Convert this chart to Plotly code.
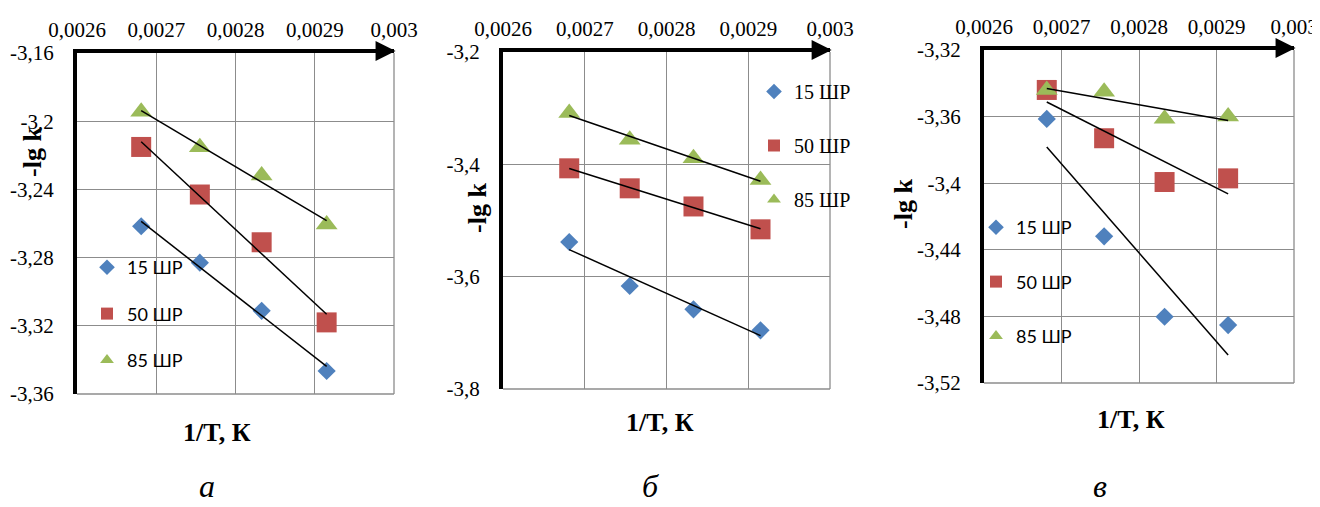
import numpy as np
import plotly.graph_objects as go

# ---------------- data ----------------
inv_T = [0.002681, 0.002755, 0.002833, 0.002915]
series_names = ["15 ШР", "50 ШР", "85 ШР"]

a_15 = [-3.2616, -3.2830, -3.3112, -3.3465]
a_50 = [-3.2151, -3.2430, -3.2710, -3.3180]
a_85 = [-3.1945, -3.2153, -3.2318, -3.2606]

b_15 = [-3.5383, -3.6166, -3.6581, -3.6955]
b_50 = [-3.4071, -3.4427, -3.4750, -3.5157]
b_85 = [-3.3086, -3.3561, -3.3893, -3.4279]

c_15 = [-3.3614, -3.4319, -3.4802, -3.4852]
c_50 = [-3.3440, -3.3730, -3.3993, -3.3971]
c_85 = [-3.3440, -3.3450, -3.3613, -3.3600]

x_tickvals = [0.0026, 0.0027, 0.0028, 0.0029, 0.003]
x_ticktext = ["0,0026", "0,0027", "0,0028", "0,0029", "0,003"]

a_ytickvals = [-3.36, -3.32, -3.28, -3.24, -3.2, -3.16]
a_yticktext = ["-3,36", "-3,32", "-3,28", "-3,24", "-3,2", "-3,16"]
b_ytickvals = [-3.8, -3.6, -3.4, -3.2]
b_yticktext = ["-3,8", "-3,6", "-3,4", "-3,2"]
c_ytickvals = [-3.52, -3.48, -3.44, -3.4, -3.36, -3.32]
c_yticktext = ["-3,52", "-3,48", "-3,44", "-3,4", "-3,36", "-3,32"]

panel_labels = ["а", "б", "в"]
x_title = "1/T, К"
y_title = "-lg k"

# ---------------- style ----------------
OFF = 8                      # page body margin of the html file
W, H = 1320 - OFF, 507 - OFF
SERIF = "Liberation Serif, Times New Roman, serif"
SANS = "Lato, Carlito, Calibri, sans-serif"
colors = ["#4F81BD", "#C0504D", "#9BBB59"]
symbols = ["diamond", "square", "triangle-up"]
sizes = [14, 20, 19]
GRID = "#8c8c8c"
TICK_SIZE = 21

def px_x(p):
    return (p - OFF) / W

def px_y(p):
    return 1 - (p - OFF) / H

panels = [
    dict(key="", legend="legend", series=[a_15, a_50, a_85],
         xdom=(77, 394), ydom=(53, 394), yrange=(-3.36, -3.16),
         ytv=a_ytickvals, ytt=a_yticktext),
    dict(key="2", legend="legend2", series=[b_15, b_50, b_85],
         xdom=(503, 830), ydom=(52, 389), yrange=(-3.8, -3.2),
         ytv=b_ytickvals, ytt=b_yticktext),
    dict(key="3", legend="legend3", series=[c_15, c_50, c_85],
         xdom=(984, 1294), ydom=(50, 383), yrange=(-3.52, -3.32),
         ytv=c_ytickvals, ytt=c_yticktext),
]

fig = go.Figure()
layout = {}
shapes = []
annotations = []

for pi, p in enumerate(panels):
    k = p["key"]
    xa, ya = "x" + k, "y" + k
    # markers
    for si, ys in enumerate(p["series"]):
        fig.add_trace(go.Scatter(
            x=inv_T, y=ys, mode="markers", name=series_names[si],
            xaxis=xa, yaxis=ya, legend=p["legend"],
            legendgroup=f"p{pi}s{si}",
            marker=dict(symbol=symbols[si], size=sizes[si], color=colors[si],
                        line=dict(width=0)),
            cliponaxis=False,
        ))
    # linear trend lines
    for si, ys in enumerate(p["series"]):
        coef = np.polyfit(inv_T, ys, 1)
        xs = [inv_T[0], inv_T[-1]]
        fig.add_trace(go.Scatter(
            x=xs, y=list(np.polyval(coef, xs)), mode="lines",
            xaxis=xa, yaxis=ya, showlegend=False,
            line=dict(color="black", width=1.5),
        ))

    layout["xaxis" + k] = dict(
        domain=[px_x(p["xdom"][0]), px_x(p["xdom"][1])],
        range=[0.0026, 0.003], anchor=ya, side="top", automargin=False,
        showline=True, linecolor="black", linewidth=4,
        showgrid=True, gridcolor=GRID, gridwidth=1.3, zeroline=False,
        tickvals=x_tickvals, ticktext=x_ticktext, ticks="",
        ticklabelstandoff=4, ticklabeloverflow="allow",
        tickfont=dict(family=SERIF, size=TICK_SIZE, color="black"),
        fixedrange=True,
    )
    layout["yaxis" + k] = dict(
        domain=[px_y(p["ydom"][1]), px_y(p["ydom"][0])],
        range=list(p["yrange"]), anchor=xa, side="left", automargin=False,
        showline=True, linecolor="black", linewidth=4,
        showgrid=True, gridcolor=GRID, gridwidth=1.3, zeroline=False,
        tickvals=p["ytv"], ticktext=p["ytt"], ticks="",
        ticklabelstandoff=15, ticklabeloverflow="allow",
        tickfont=dict(family=SERIF, size=TICK_SIZE, color="black"),
        fixedrange=True,
    )
    # right and bottom borders (grid colour)
    shapes.append(dict(type="line", xref=xa + " domain", yref=ya + " domain",
                       x0=1, x1=1, y0=0, y1=1, line=dict(color=GRID, width=1.3),
                       layer="below"))
    shapes.append(dict(type="line", xref=xa + " domain", yref=ya + " domain",
                       x0=0, x1=1, y0=0, y1=0, line=dict(color=GRID, width=1.3),
                       layer="below"))
    # arrow at the end of the top axis
    annotations.append(dict(
        xref=xa + " domain", yref=ya + " domain", x=1.005, y=1,
        ax=-22, ay=0, axref="pixel", ayref="pixel", text="",
        showarrow=True, arrowhead=2, arrowsize=1, arrowwidth=4,
        arrowcolor="black", yshift=2,
    ))

# axis titles and panel labels (reference pixel positions)
ytitle_pos = [(32, 152), (478, 208), (904, 204)]
xtitle_pos = [(217, 432), (660, 422), (1131, 419)]
label_x = [207, 650, 1100]
for (yx, yy), (xx, xy), lx, lab in zip(ytitle_pos, xtitle_pos, label_x, panel_labels):
    annotations.append(dict(xref="paper", yref="paper", x=px_x(yx), y=px_y(yy),
                            text=f"<b>{y_title}</b>", textangle=-90, showarrow=False,
                            font=dict(family=SERIF, size=26, color="black"),
                            xanchor="center", yanchor="middle"))
    annotations.append(dict(xref="paper", yref="paper", x=px_x(xx), y=px_y(xy),
                            text=f"<b>{x_title}</b>", showarrow=False,
                            font=dict(family=SERIF, size=26, color="black"),
                            xanchor="center", yanchor="middle"))
    annotations.append(dict(xref="paper", yref="paper", x=px_x(lx), y=px_y(506),
                            text=f"<i>{lab}</i>", showarrow=False,
                            font=dict(family=SERIF, size=32, color="black"),
                            xanchor="center", yanchor="bottom"))

legend_common = dict(bgcolor="rgba(0,0,0,0)", borderwidth=0, itemsizing="constant",
                     traceorder="grouped", xanchor="left", yanchor="top",
                     itemclick=False, itemdoubleclick=False)
layout["legend"] = dict(legend_common, x=px_x(87), y=px_y(249), tracegroupgap=20,
                        font=dict(family=SANS, size=18, color="black"))
layout["legend2"] = dict(legend_common, x=px_x(754), y=px_y(72), tracegroupgap=25,
                         font=dict(family=SERIF, size=20, color="black"))
layout["legend3"] = dict(legend_common, x=px_x(976), y=px_y(209), tracegroupgap=28,
                         font=dict(family=SANS, size=18, color="black"))

fig.update_layout(
    width=W, height=H, margin=dict(l=0, r=0, t=0, b=0, autoexpand=False),
    paper_bgcolor="white", plot_bgcolor="white",
    showlegend=True, hovermode=False,
    shapes=shapes, annotations=annotations,
    **layout,
)

fig.write_html("out.html")
